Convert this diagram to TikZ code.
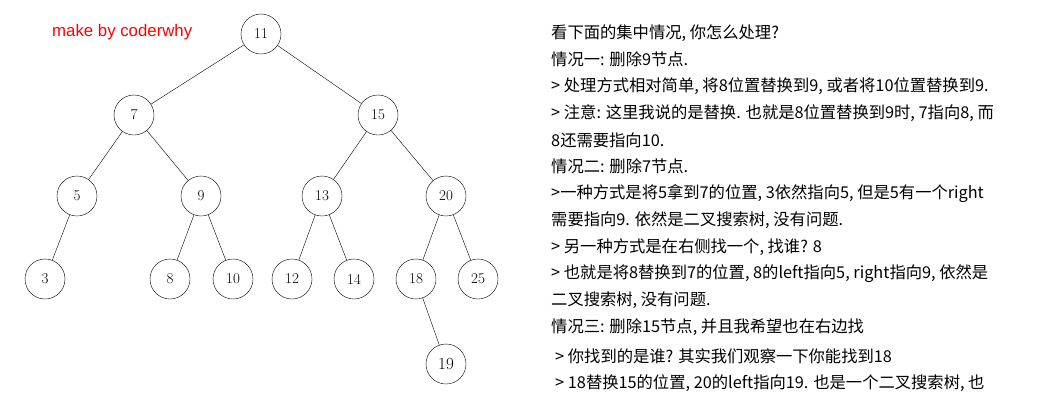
\documentclass[tikz,border=0pt]{standalone}
\usepackage{fontspec}
\newfontfamily\cjk{Noto Sans CJK SC}
\newfontfamily\lab{Liberation Sans}
\usetikzlibrary{positioning}
\tikzset{
  tnode/.style={draw, circle, minimum size=40pt, inner sep=0pt, font=\fontsize{15}{15}\selectfont},
  tline/.style={anchor=west, inner sep=0pt, font=\cjk\fontsize{16.3}{16.3}\selectfont}
}
\begin{document}
\begin{tikzpicture}[x=1pt, y=-1pt]
  \useasboundingbox (0,0) rectangle (1040,400);
  \node[text=red, anchor=west, inner sep=0pt, font=\lab\fontsize{16.8}{16.8}\selectfont] (tag) at (52,32) {make by coderwhy};
  % tree
  \node[tnode] (n11) at (261,34) {11};
  \node[tnode] (n7) at (134,115) {7};
  \node[tnode] (n15) at (378,115) {15};
  \node[tnode] (n5) at (77,196) {5};
  \node[tnode] (n9) at (201,196) {9};
  \node[tnode] (n13) at (322,196) {13};
  \node[tnode] (n20) at (446,196) {20};
  \node[tnode] (n3) at (45,279) {3};
  \node[tnode] (n8) at (170,279) {8};
  \node[tnode] (n10) at (233,279) {10};
  \node[tnode] (n12) at (292,279) {12};
  \node[tnode] (n14) at (354,279) {14};
  \node[tnode] (n18) at (416,279) {18};
  \node[tnode] (n25) at (478,279) {25};
  \node[tnode, font=\fontsize{17}{17}\selectfont] (n19) at (446,364) {19};
  \foreach \a/\b in {n11/n7, n11/n15, n7/n5, n7/n9, n15/n13, n15/n20, n5/n3, n9/n8, n9/n10,
                     n13/n12, n13/n14, n20/n18, n20/n25, n18/n19}
    \draw (\a) -- (\b);
  % text
  \node[tline] (t1) at (551,33) {看下面的集中情况, 你怎么处理?};
  \node[tline] (t2) at (551,59) {情况一: 删除9节点.};
  \node[tline] (t3) at (551,86) {> 处理方式相对简单, 将8位置替换到9, 或者将10位置替换到9.};
  \node[tline] (t4) at (551,113) {> 注意: 这里我说的是替换. 也就是8位置替换到9时, 7指向8, 而};
  \node[tline] (t5) at (551,140) {8还需要指向10.};
  \node[tline] (t6) at (551,166) {情况二: 删除7节点.};
  \node[tline] (t7) at (551,194) {>一种方式是将5拿到7的位置, 3依然指向5, 但是5有一个right};
  \node[tline] (t8) at (551,220) {需要指向9. 依然是二叉搜索树, 没有问题.};
  \node[tline] (t9) at (551,247) {> 另一种方式是在右侧找一个, 找谁? 8};
  \node[tline] (t10) at (551,274) {> 也就是将8替换到7的位置, 8的left指向5, right指向9, 依然是};
  \node[tline] (t11) at (551,300) {二叉搜索树, 没有问题.};
  \node[tline] (t12) at (551,327) {情况三: 删除15节点, 并且我希望也在右边找};
  \node[tline] (t13) at (555,356) {> 你找到的是谁? 其实我们观察一下你能找到18};
  \node[tline] (t14) at (555,383) {> 18替换15的位置, 20的left指向19. 也是一个二叉搜索树, 也};
\end{tikzpicture}
\end{document}
